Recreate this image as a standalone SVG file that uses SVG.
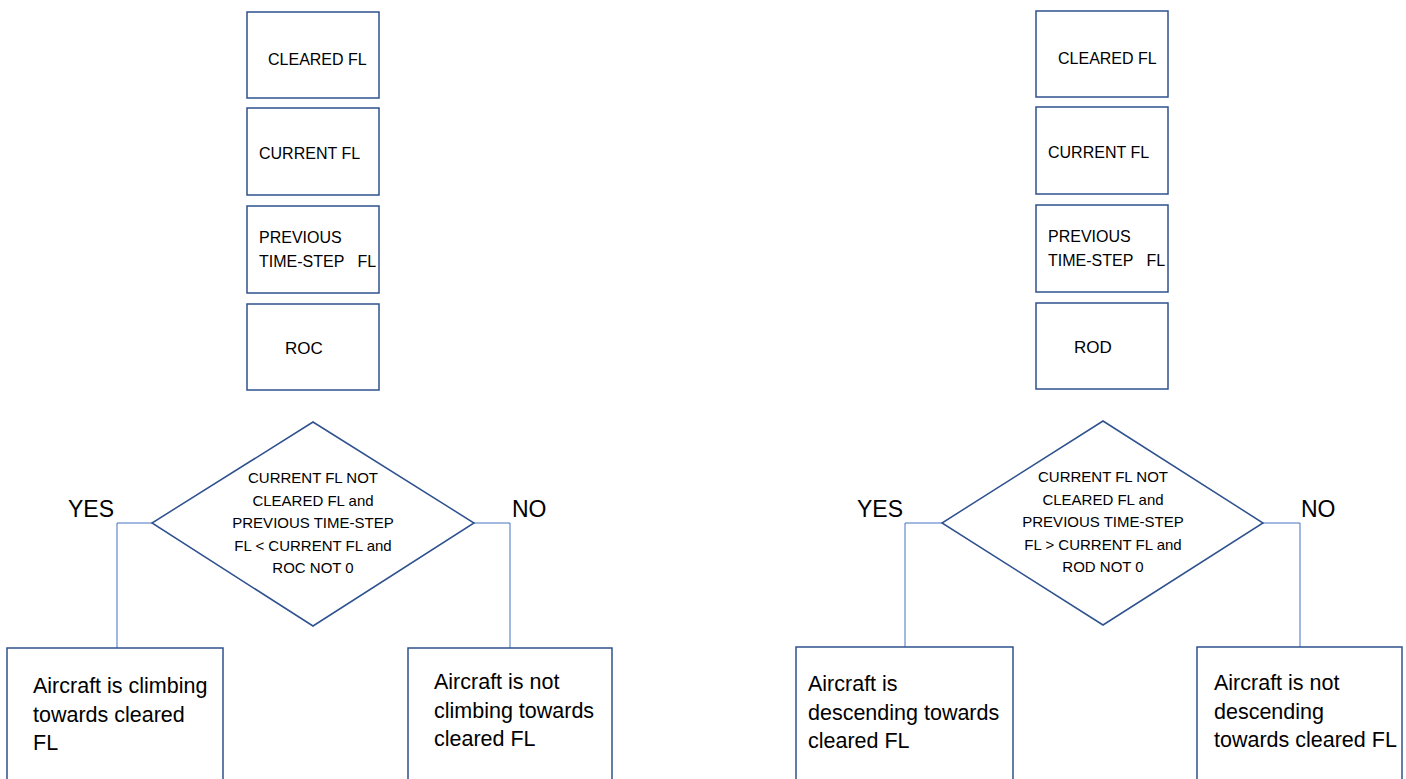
<svg xmlns="http://www.w3.org/2000/svg" width="1406" height="779" viewBox="0 0 1406 779">
  <style>
    .box { fill: #ffffff; stroke: #2F528F; stroke-width: 1.5; }
    .wire { fill: none; stroke: #4472C4; stroke-width: 1; }
    .t { font-family: "Liberation Sans", Arial, sans-serif; fill: #000000; }
    .small { font-size: 16px; }
    .cond { font-size: 15px; text-anchor: middle; }
    .big { font-size: 21.5px; }
    .yn { font-size: 23px; }
  </style>
  <rect width="1406" height="779" fill="#ffffff"/>

  <!-- connectors: diamond corners down to outcome boxes -->
  <g id="connectors">
    <polyline class="wire" points="152,523 117,523 117,648"/>
    <polyline class="wire" points="474,523 510,523 510,648"/>
    <polyline class="wire" points="942,523 905,523 905,647"/>
    <polyline class="wire" points="1263,523 1300,523 1300,647"/>
  </g>

  <!-- climb check: inputs -->
  <g id="climb-cleared-fl">
    <rect class="box" x="247" y="12" width="132" height="86"/>
    <text class="t small" x="268" y="65">CLEARED FL</text>
  </g>
  <g id="climb-current-fl">
    <rect class="box" x="247" y="108" width="132" height="87"/>
    <text class="t small" x="259" y="159">CURRENT FL</text>
  </g>
  <g id="climb-previous-fl">
    <rect class="box" x="247" y="206" width="132" height="87"/>
    <text class="t small" x="259" y="243">PREVIOUS</text>
    <text class="t small" x="259" y="267" xml:space="preserve">TIME-STEP   FL</text>
  </g>
  <g id="climb-roc">
    <rect class="box" x="247" y="304" width="132" height="86"/>
    <text class="t small" x="285" y="354" style="font-size:17px">ROC</text>
  </g>

  <!-- climb check: decision -->
  <g id="climb-decision">
    <polygon class="box" points="313,422 474,523 313,626 152,523"/>
    <text class="t cond" x="313" y="483">CURRENT FL NOT</text>
    <text class="t cond" x="313" y="505.5">CLEARED FL and</text>
    <text class="t cond" x="313" y="528">PREVIOUS TIME-STEP</text>
    <text class="t cond" x="313" y="551">FL &lt; CURRENT FL and</text>
    <text class="t cond" x="313" y="573">ROC NOT 0</text>
  </g>
  <g id="climb-yes-label"><text class="t yn" x="68" y="517">YES</text></g>
  <g id="climb-no-label"><text class="t yn" x="512" y="517">NO</text></g>

  <!-- climb check: outcomes -->
  <g id="climb-yes">
    <rect class="box" x="7" y="648" width="216" height="140"/>
    <text class="t big" x="33" y="693">Aircraft is climbing</text>
    <text class="t big" x="33" y="722">towards cleared</text>
    <text class="t big" x="33" y="750">FL</text>
  </g>
  <g id="climb-no">
    <rect class="box" x="408" y="648" width="204" height="140"/>
    <text class="t big" x="434" y="689">Aircraft is not</text>
    <text class="t big" x="434" y="718">climbing towards</text>
    <text class="t big" x="434" y="746">cleared FL</text>
  </g>

  <!-- descent check: inputs -->
  <g id="descent-cleared-fl">
    <rect class="box" x="1036" y="11" width="132" height="86"/>
    <text class="t small" x="1058" y="64">CLEARED FL</text>
  </g>
  <g id="descent-current-fl">
    <rect class="box" x="1036" y="107" width="132" height="87"/>
    <text class="t small" x="1048" y="158">CURRENT FL</text>
  </g>
  <g id="descent-previous-fl">
    <rect class="box" x="1036" y="205" width="132" height="87"/>
    <text class="t small" x="1048" y="242">PREVIOUS</text>
    <text class="t small" x="1048" y="266" xml:space="preserve">TIME-STEP   FL</text>
  </g>
  <g id="descent-rod">
    <rect class="box" x="1036" y="303" width="132" height="86"/>
    <text class="t small" x="1074" y="353" style="font-size:17px">ROD</text>
  </g>

  <!-- descent check: decision -->
  <g id="descent-decision">
    <polygon class="box" points="1103,421 1263,523 1103,625 942,523"/>
    <text class="t cond" x="1103" y="482">CURRENT FL NOT</text>
    <text class="t cond" x="1103" y="504.5">CLEARED FL and</text>
    <text class="t cond" x="1103" y="527">PREVIOUS TIME-STEP</text>
    <text class="t cond" x="1103" y="550">FL &gt; CURRENT FL and</text>
    <text class="t cond" x="1103" y="572">ROD NOT 0</text>
  </g>
  <g id="descent-yes-label"><text class="t yn" x="857" y="517">YES</text></g>
  <g id="descent-no-label"><text class="t yn" x="1301" y="517">NO</text></g>

  <!-- descent check: outcomes -->
  <g id="descent-yes">
    <rect class="box" x="796" y="647" width="217" height="140"/>
    <text class="t big" x="808" y="691">Aircraft is</text>
    <text class="t big" x="808" y="720">descending towards</text>
    <text class="t big" x="808" y="748">cleared FL</text>
  </g>
  <g id="descent-no">
    <rect class="box" x="1197" y="647" width="205" height="140"/>
    <text class="t big" x="1214" y="690">Aircraft is not</text>
    <text class="t big" x="1214" y="719">descending</text>
    <text class="t big" x="1214" y="747">towards cleared FL</text>
  </g>
</svg>
